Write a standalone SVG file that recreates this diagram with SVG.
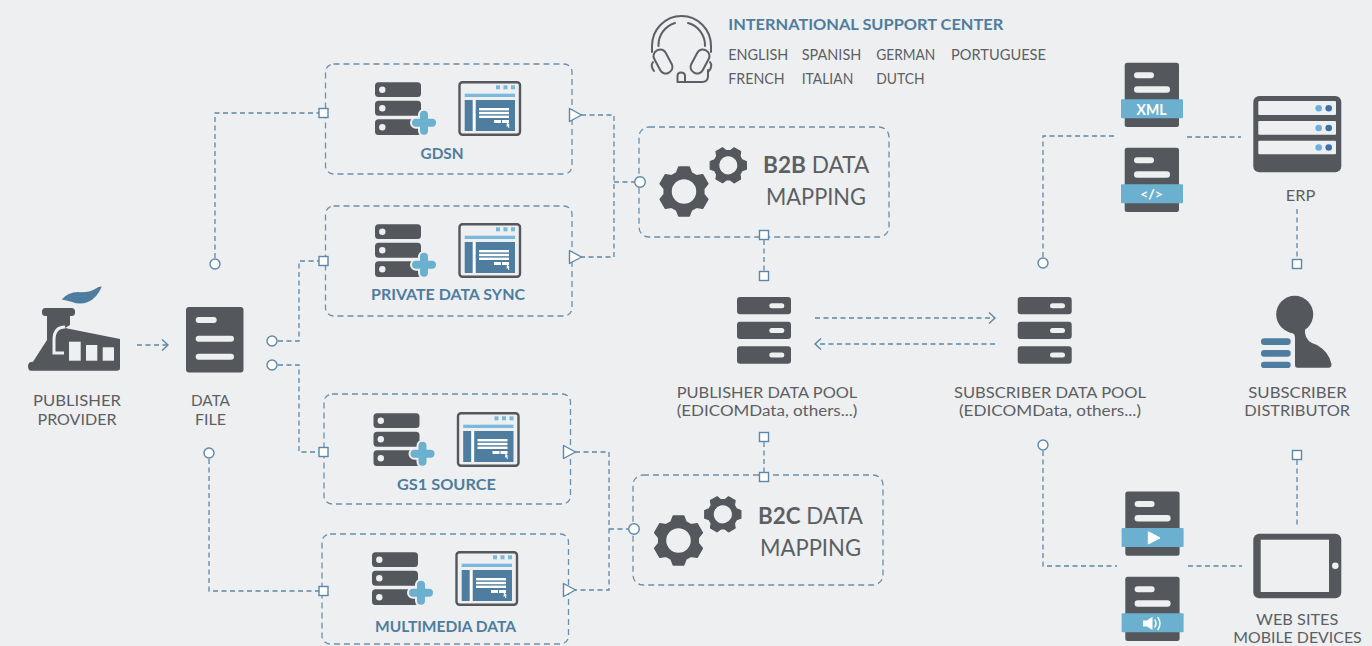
<svg xmlns="http://www.w3.org/2000/svg" width="1372" height="646" viewBox="0 0 1372 646">
<style>
text{font-family:Lato,"Noto Sans","Liberation Sans",sans-serif;fill:#5c5f64;font-size:16px}
.c{text-anchor:middle}
.b{font-weight:700;fill:#4e7d9f}
.big{font-size:23.500px}
.lang{font-size:15px}
.tight{font-size:14.600px}
.dk{fill:#54575c}
.bl{fill:#4e7d9f}
.lb{fill:#6bb0cf}
.w{fill:#eeeff1}
.box{fill:none;stroke:#6a90ad;stroke-width:1.3;stroke-dasharray:6 4}
.cn{fill:none;stroke:#5d87a8;stroke-width:1.3;stroke-dasharray:5 3.5}
.sq{fill:#fff;stroke:#5d87a8;stroke-width:1.4}
.ci{fill:#fff;stroke:#5d87a8;stroke-width:1.4}
.ar{fill:none;stroke:#5d87a8;stroke-width:1.4}
</style>
<defs>
<g id="srv">
<rect class="dk" x="375" y="82.3" width="46" height="14.7" rx="3.5"/>
<rect class="dk" x="375" y="100.7" width="46" height="15" rx="3.5"/>
<rect class="dk" x="375" y="119.3" width="46" height="15.7" rx="3.5"/>
<circle class="w" cx="382.3" cy="89.7" r="3.2"/><circle class="w" cx="382.3" cy="108.2" r="3.2"/><circle class="w" cx="382.3" cy="127.2" r="3.2"/>
<path d="M416,122.7H432M424,114.7V130.7" fill="none" stroke="#eeeff1" stroke-width="12" stroke-linecap="round"/>
<path d="M416,122.7H432M424,114.7V130.7" fill="none" stroke="#6bb0cf" stroke-width="8" stroke-linecap="round"/>
<rect x="459.5" y="82.2" width="60.5" height="52.5" rx="3" fill="#eeeff1" stroke="#54575c" stroke-width="2.4"/>
<rect x="496" y="85.3" width="4" height="4" fill="#7ab8dc"/><rect x="503.5" y="85.3" width="4" height="4" fill="#7ab8dc"/><rect x="511" y="85.3" width="4" height="4" fill="#7ab8dc"/>
<rect x="464.7" y="93.7" width="50.3" height="3.3" fill="#7ab8dc"/>
<rect class="bl" x="464.7" y="100" width="50.3" height="31"/>
<rect x="472.7" y="100" width="3" height="31" fill="#fff"/>
<rect x="479" y="108" width="30" height="2.4" fill="#fff"/><rect x="479" y="111.8" width="30" height="2.4" fill="#fff"/><rect x="479" y="115.6" width="30" height="2.4" fill="#fff"/>
<rect x="494" y="120" width="7" height="3" fill="#fff"/><rect x="502" y="120" width="7" height="3" fill="#fff"/>
<path d="M507,122l3,3.5h-1.5l1,2-1,.4-1-2-1,1z" fill="#fff"/>
</g>
<path id="gear" fill-rule="evenodd" stroke-linejoin="round" d="M-10.4,-48.9L10.4,-48.9L15,-37.1L24.6,-31.5L37.2,-33.5L47.6,-15.5L39.6,-5.6L39.6,5.6L47.6,15.5L37.2,33.5L24.6,31.5L15,37.1L10.4,48.9L-10.4,48.9L-15,37.1L-24.6,31.5L-37.2,33.5L-47.6,15.5L-39.6,5.6L-39.6,-5.6L-47.6,-15.5L-37.2,-33.5L-24.6,-31.5L-15,-37.1ZM26,0A26,26 0 1 0 -26,0A26,26 0 1 0 26,0Z"/>
<g id="pool">
<rect class="dk" x="0" y="297" width="54" height="17.3" rx="3"/><rect class="dk" x="0" y="321.7" width="54" height="17.3" rx="3"/><rect class="dk" x="0" y="346.3" width="54" height="17.4" rx="3"/>
<rect class="w" x="32.3" y="303.2" width="15" height="5" rx="2.5"/><rect class="w" x="32.3" y="328" width="15" height="5" rx="2.5"/><rect class="w" x="32.3" y="352.5" width="15" height="5" rx="2.5"/>
</g>
<g id="doc">
<rect class="dk" x="1124.7" y="62.7" width="54.3" height="64.3" rx="2.5"/>
<rect class="w" x="1134" y="72.3" width="20" height="6" rx="3"/>
<rect class="w" x="1134" y="86.3" width="36" height="6.4" rx="3.2"/>
<rect class="lb" x="1121" y="99.3" width="62" height="19" rx="1"/>
</g>
<path id="tri" d="M-6,-6.5L6,0L-6,6.5Z" fill="#fff" stroke="#5d87a8" stroke-width="1.4" stroke-linejoin="round"/>
</defs>
<rect width="1372" height="646" fill="#eeeff1"/>

<g id="connectors">
<path class="cn" d="M215,258V113H319"/>
<path class="cn" d="M278,341H299V261H319"/>
<path class="cn" d="M278,365H299V452H319"/>
<path class="cn" d="M209,459V591H319"/>
<path class="cn" d="M581,115H614V257H581"/>
<path class="cn" d="M614,182H634"/>
<path class="cn" d="M575,452H609V590H575"/>
<path class="cn" d="M609,529H628"/>
<path class="cn" d="M764,240V271"/>
<path class="cn" d="M764,442V472"/>
<path class="cn" d="M137,345H167"/><path class="ar" d="M162,339.500L168,345L162,350.500"/>
<path class="cn" d="M815,318H994"/><path class="ar" d="M989,312.500L995,318L989,323.500"/>
<path class="cn" d="M995,344H816"/><path class="ar" d="M821,338.500L815,344L821,349.500"/>
<path class="cn" d="M1043,257V136H1115"/>
<path class="cn" d="M1187,137H1241"/>
<path class="cn" d="M1297,209V260"/>
<path class="cn" d="M1043,451V566H1117"/>
<path class="cn" d="M1188,566H1242"/>
<path class="cn" d="M1297,460V528"/>
</g>

<g id="publisher">
<path class="bl" d="M61.7,299.500Q68,292 78,292Q88,293 95,289Q100,286 101.7,286.7Q97,298 88,302Q80,305 72,302Q66,300 61.7,299.500Z"/>
<rect class="dk" x="42" y="308" width="33" height="8" rx="3.500"/>
<path class="dk" d="M47,316H70V325L65,328L120,339V368Q120,370.7 117,370.7H31Q28,370.7 28,366Q28,361.7 33,361.7L47,340Z"/>
<path d="M65,327Q54,327 54,340V353H64" fill="none" stroke="#eeeff1" stroke-width="3"/>
<rect class="w" x="69" y="341.7" width="11.7" height="19"/><rect class="w" x="86" y="345" width="11.3" height="15.7"/><rect class="w" x="102.7" y="347.3" width="11.3" height="13.4"/>
<text class="c" x="77" y="405.7" textLength="88" lengthAdjust="spacingAndGlyphs">PUBLISHER</text>
<text class="c" x="77" y="424.7" textLength="79" lengthAdjust="spacingAndGlyphs">PROVIDER</text>
</g>

<g id="data-file">
<rect class="dk" x="186" y="307" width="57.500" height="65.500" rx="3"/>
<rect class="w" x="195.7" y="317" width="21" height="6" rx="3"/><rect class="w" x="195.7" y="335.7" width="38.3" height="6" rx="3"/><rect class="w" x="195.7" y="353.7" width="38.3" height="6" rx="3"/>
<text class="c" x="210.500" y="405.7" textLength="39" lengthAdjust="spacingAndGlyphs">DATA</text>
<text class="c" x="210.500" y="424.7" textLength="31" lengthAdjust="spacingAndGlyphs">FILE</text>
</g>

<g id="gdsn">
<rect class="box" x="325.500" y="64" width="246.500" height="110" rx="8"/>
<use href="#srv"/>
<text class="c b" x="442" y="158.7" textLength="43" lengthAdjust="spacingAndGlyphs">GDSN</text>
</g>
<g id="private-data-sync">
<rect class="box" x="325.500" y="206" width="246.500" height="110" rx="8"/>
<use href="#srv" transform="translate(0 142)"/>
<text class="c b" x="448" y="300" textLength="154" lengthAdjust="spacingAndGlyphs">PRIVATE DATA SYNC</text>
</g>
<g id="gs1-source">
<rect class="box" x="324" y="394" width="246.500" height="110" rx="8"/>
<use href="#srv" transform="translate(-1.500 331)"/>
<text class="c b" x="446.500" y="490" textLength="99" lengthAdjust="spacingAndGlyphs">GS1 SOURCE</text>
</g>
<g id="multimedia-data">
<rect class="box" x="322" y="534" width="246.500" height="110" rx="8"/>
<use href="#srv" transform="translate(-3 470)"/>
<text class="c b" x="445.500" y="632" textLength="141" lengthAdjust="spacingAndGlyphs">MULTIMEDIA DATA</text>
</g>

<g id="ports">
<rect class="sq" x="319" y="108.500" width="9" height="9"/><rect class="sq" x="319" y="256.500" width="9" height="9"/><rect class="sq" x="319" y="447.500" width="9" height="9"/><rect class="sq" x="319" y="586.500" width="9" height="9"/>
<circle class="ci" cx="215" cy="264" r="5"/><circle class="ci" cx="272" cy="341" r="5"/><circle class="ci" cx="272" cy="365" r="5"/><circle class="ci" cx="209" cy="453" r="5"/>
<use href="#tri" x="575.500" y="115"/><use href="#tri" x="575.500" y="257"/><use href="#tri" x="569.500" y="452"/><use href="#tri" x="569.500" y="590"/>
</g>

<g id="b2b-mapping">
<rect class="box" x="639" y="127" width="250" height="110" rx="10"/>
<use href="#gear" class="dk" stroke="#54575c" stroke-width="3" transform="translate(684 191.500) scale(.5)"/>
<use href="#gear" class="dk" stroke="#54575c" stroke-width="3" transform="translate(728.3 165.3) rotate(30) scale(.37)"/>
<text class="big" x="763" y="172.7" textLength="106.3" lengthAdjust="spacingAndGlyphs"><tspan font-weight="700">B2B</tspan> DATA</text>
<text class="big c" x="816" y="205" textLength="100" lengthAdjust="spacingAndGlyphs">MAPPING</text>
<circle class="ci" cx="640" cy="182" r="5.3"/>
<rect class="sq" x="759.500" y="230.500" width="9" height="9"/>
</g>
<g id="b2c-mapping">
<rect class="box" x="633" y="475" width="250" height="110" rx="10"/>
<use href="#gear" class="dk" stroke="#54575c" stroke-width="3" transform="translate(678.500 540.500) scale(.5)"/>
<use href="#gear" class="dk" stroke="#54575c" stroke-width="3" transform="translate(722.8 514.3) rotate(30) scale(.37)"/>
<text class="big" x="758" y="524" textLength="105" lengthAdjust="spacingAndGlyphs"><tspan font-weight="700">B2C</tspan> DATA</text>
<text class="big c" x="810.500" y="556" textLength="101" lengthAdjust="spacingAndGlyphs">MAPPING</text>
<circle class="ci" cx="634" cy="529" r="5.3"/>
<rect class="sq" x="759.500" y="472.500" width="9" height="9"/>
</g>

<g id="publisher-pool">
<rect class="sq" x="759.500" y="271.500" width="9" height="9"/>
<use href="#pool" x="737"/>
<text class="c tight" x="767" y="398.3" textLength="180.6" lengthAdjust="spacingAndGlyphs">PUBLISHER DATA POOL</text>
<text class="c tight" x="767" y="416" textLength="180.6" lengthAdjust="spacingAndGlyphs">(EDICOMData, others...)</text>
<rect class="sq" x="759.500" y="432.500" width="9" height="9"/>
</g>
<g id="subscriber-pool">
<use href="#pool" x="1017.7"/>
<text class="c tight" x="1050" y="398.3" textLength="192" lengthAdjust="spacingAndGlyphs">SUBSCRIBER DATA POOL</text>
<text class="c tight" x="1050" y="416" textLength="182" lengthAdjust="spacingAndGlyphs">(EDICOMData, others...)</text>
<circle class="ci" cx="1043" cy="263" r="5"/><circle class="ci" cx="1043" cy="445" r="5"/>
</g>

<g id="support-center">
<g fill="none" stroke="#5c5f64" stroke-width="2" stroke-linecap="round">
<path d="M652,52V46A29.500,30 0 0 1 711,46V52"/>
<path d="M658.500,46A23,23 0 0 1 675,23M688,23A23,23 0 0 1 705,46"/>
<rect x="656.500" y="49" width="13" height="25" rx="6" transform="rotate(-28 663 61.500)"/>
<rect x="693.500" y="49" width="13" height="25" rx="6" transform="rotate(28 700 61.500)"/>
<path d="M653,62Q650,66 654,71M710,62Q713,66 709,71"/>
<path d="M708,70V76Q708,82 702,82H686"/>
<path d="M677.500,82V76Q677.500,72.500 681,72.500Q685,72.500 685,76V82H677.500"/>
</g>
<text class="b" x="728.3" y="30" textLength="275" lengthAdjust="spacingAndGlyphs">INTERNATIONAL SUPPORT CENTER</text>
<text class="lang" x="728.3" y="60" textLength="60" lengthAdjust="spacingAndGlyphs">ENGLISH</text>
<text class="lang" x="801.7" y="60" textLength="59.6" lengthAdjust="spacingAndGlyphs">SPANISH</text>
<text class="lang" x="876.3" y="60" textLength="59" lengthAdjust="spacingAndGlyphs">GERMAN</text>
<text class="lang" x="951" y="60" textLength="95" lengthAdjust="spacingAndGlyphs">PORTUGUESE</text>
<text class="lang" x="728.3" y="84" textLength="56.4" lengthAdjust="spacingAndGlyphs">FRENCH</text>
<text class="lang" x="801.7" y="84" textLength="51.6" lengthAdjust="spacingAndGlyphs">ITALIAN</text>
<text class="lang" x="876.3" y="84" textLength="48.4" lengthAdjust="spacingAndGlyphs">DUTCH</text>
</g>

<g id="xml-doc">
<use href="#doc"/>
<text class="c" x="1151.500" y="114.500" style="fill:#fff;font-weight:700;font-size:15px" textLength="30" lengthAdjust="spacingAndGlyphs">XML</text>
</g>
<g id="code-doc">
<use href="#doc" transform="translate(0 85)"/>
<text class="c" x="1151.500" y="199" style="fill:#fff;font-weight:700;font-size:14px" textLength="23" lengthAdjust="spacingAndGlyphs">&lt;/&gt;</text>
</g>
<g id="erp">
<rect class="dk" x="1253.3" y="96" width="88" height="76.300" rx="6"/>
<rect class="w" x="1258.3" y="101" width="77.700" height="14" rx="1"/><rect class="w" x="1258.3" y="121" width="77.700" height="13.700" rx="1"/><rect class="w" x="1258.3" y="140.700" width="77.700" height="13.600" rx="1"/>
<g fill="#6bb0dc"><circle cx="1318.700" cy="108.300" r="3.300"/><circle cx="1318.700" cy="128" r="3.300"/><circle cx="1318.700" cy="147.500" r="3.300"/></g>
<g fill="#3a72a8"><circle cx="1328.700" cy="108.300" r="3.300"/><circle cx="1328.700" cy="128" r="3.300"/><circle cx="1328.700" cy="147.500" r="3.300"/></g>
<text class="c" x="1300.500" y="200.700" textLength="29.500" lengthAdjust="spacingAndGlyphs">ERP</text>
<rect class="sq" x="1292.500" y="259.500" width="9" height="9"/>
</g>
<g id="subscriber">
<circle class="dk" cx="1294.700" cy="314.300" r="18.500"/>
<path class="dk" d="M1286,330Q1289,333 1291,333Q1295,333 1295,338V365.500Q1295,367.700 1297.500,367.700H1328.700Q1331.700,367.700 1331.500,364Q1329,352 1317,345Q1306,342 1305,333V325Z"/>
<rect class="bl" x="1261" y="338.300" width="29.700" height="6.700" rx="3.300"/><rect class="bl" x="1261" y="350" width="29.700" height="6.700" rx="3.300"/><rect class="bl" x="1261" y="361.700" width="29.700" height="6.300" rx="3.100"/>
<text class="c tight" x="1297.500" y="398.300" textLength="98.400" lengthAdjust="spacingAndGlyphs">SUBSCRIBER</text>
<text class="c tight" x="1297.200" y="416" textLength="105.700" lengthAdjust="spacingAndGlyphs">DISTRIBUTOR</text>
</g>
<g id="video-doc">
<use href="#doc" transform="translate(.6 428.700)"/>
<path d="M1148.300,531.700L1160,537.900L1148.300,544Z" fill="#fff" stroke="#fff" stroke-linejoin="round"/>
</g>
<g id="audio-doc">
<use href="#doc" transform="translate(.6 514)"/>
<path d="M1143,620.500H1147L1152.500,616.700V630L1147,626.500H1143Z" fill="#fff"/>
<path d="M1155,620Q1157,623.500 1155,627M1158,617.500Q1162,623.500 1158,629.500" fill="none" stroke="#fff" stroke-width="1.500" stroke-linecap="round"/>
</g>
<g id="web-sites">
<rect class="sq" x="1292.500" y="450.500" width="9" height="9"/>
<rect class="dk" x="1253.300" y="533.700" width="88" height="64.600" rx="6"/>
<rect class="w" x="1260.700" y="539.700" width="68.300" height="52.300"/>
<circle class="w" cx="1335.300" cy="565.700" r="3.300"/>
<text class="c tight" x="1297.200" y="625" textLength="82.300" lengthAdjust="spacingAndGlyphs">WEB SITES</text>
<text class="c tight" x="1297.500" y="643" textLength="128.400" lengthAdjust="spacingAndGlyphs">MOBILE DEVICES</text>
</g>
</svg>
